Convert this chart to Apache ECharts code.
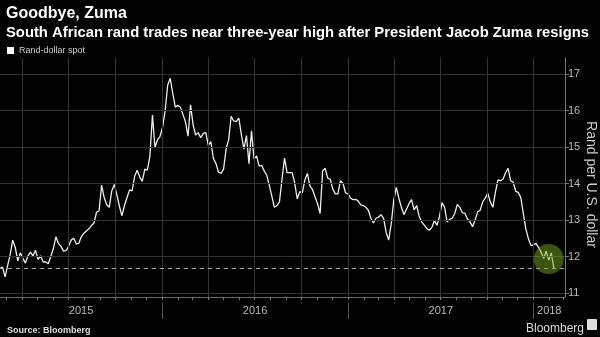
<!DOCTYPE html>
<html><head><meta charset="utf-8">
<script src="https://cdn.jsdelivr.net/npm/echarts@6/dist/echarts.min.js"></script>
<style>html,body{margin:0;padding:0;background:#000}#c{width:600px;height:337px}</style>
</head><body><div id="c"></div>
<script>
// ---- data ----
const startDate = [2015, 1, 16];   // first observation (UTC y, m0, d)
const stepDays = 5;                 // sampling step of the series
const rand = [
11.67,11.71,11.44,11.75,12.05,12.45,12.25,11.88,12.10,11.95,
11.82,12.02,12.12,12.02,12.17,11.92,12.02,11.85,11.85,11.80,
12.00,12.22,12.54,12.36,12.28,12.15,12.16,12.28,12.45,12.50,
12.35,12.36,12.54,12.64,12.70,12.76,12.85,12.92,13.22,13.25,
13.96,13.62,13.42,13.35,13.80,13.98,13.70,13.38,13.12,13.40,
13.62,13.83,13.80,14.20,14.37,14.18,14.06,14.40,14.37,14.75,
15.88,15.00,15.20,15.30,15.55,16.00,16.70,16.89,16.48,16.10,
16.15,16.10,15.90,15.70,15.30,16.16,15.62,15.33,15.40,15.26,
15.38,15.40,15.05,15.15,14.69,14.55,14.32,14.28,14.40,14.95,
15.20,15.85,15.72,15.70,15.80,15.35,14.95,15.32,14.55,15.45,
14.68,14.76,14.48,14.50,14.35,14.23,13.95,13.66,13.35,13.40,
13.50,14.12,14.70,14.30,14.30,14.30,14.02,13.58,13.78,13.75,
14.10,14.28,13.93,13.84,13.64,13.45,13.18,14.35,14.42,14.15,
14.12,13.85,13.72,13.72,14.08,14.01,13.75,13.72,13.60,13.56,
13.57,13.52,13.42,13.40,13.35,13.27,13.05,12.92,13.05,13.08,
13.15,13.05,12.66,12.45,12.90,13.55,13.90,13.60,13.35,13.15,
13.30,13.45,13.56,13.28,13.40,13.10,12.95,12.86,12.77,12.72,
12.80,12.98,12.86,13.10,13.48,13.35,12.95,13.02,13.05,13.18,
13.43,13.35,13.20,13.19,13.03,12.95,12.82,13.00,13.22,13.27,
13.50,13.60,13.74,13.50,13.35,13.76,14.10,14.08,14.12,14.30,
14.42,14.08,14.04,13.79,13.76,13.62,13.18,12.75,12.49,12.30,
12.32,12.36,12.25,12.12,11.95,12.15,11.90,12.10,11.68
];
const yTicks = [11, 12, 13, 14, 15, 16, 17];
const years = [2015, 2016, 2017, 2018];
const highlight = { date: [2018, 0, 31], value: 11.93 };
const axisStart = [2015, 1, 16];
const axisEnd = [2018, 2, 4];

// ---- derived ----
const DAY = 86400000;
const t0 = Date.UTC(...startDate);
const series = rand.map((v, i) => [t0 + i * stepDays * DAY, v]);
const xMin = Date.UTC(...axisStart), xMax = Date.UTC(...axisEnd);
const monthTicks = [], quarterTicks = [], yearStarts = [], yearCenters = [];
years.forEach(y => {
  for (let m = 0; m < 12; m++) {
    const t = Date.UTC(y, m, 1);
    if (t >= xMin && t <= xMax) { monthTicks.push(t); if (m % 3 === 0) quarterTicks.push(t); }
  }
  const ys = Date.UTC(y, 0, 1);
  if (ys > xMin && ys < xMax) yearStarts.push(ys);
  const s = Math.max(ys, xMin), e = Math.min(Date.UTC(y + 1, 0, 1), xMax);
  yearCenters.push((s + e) / 2);
});
const lastVal = rand[rand.length - 1];

const chart = echarts.init(document.getElementById('c'), null, { renderer: 'canvas' });
const FONT = 'Liberation Sans';
chart.setOption({
  backgroundColor: '#000',
  animation: false,
  textStyle: { fontFamily: FONT },
  title: [
    { text: 'Goodbye, Zuma', left: 1, top: 1,
      textStyle: { color: '#fff', fontSize: 16, fontWeight: 'bold', fontFamily: FONT } },
    { text: 'South African rand trades near three-year high after President Jacob Zuma resigns', left: 1, top: 20,
      textStyle: { color: '#fff', fontSize: 14.8, fontWeight: 'bold', fontFamily: FONT } },
    { text: 'Source: Bloomberg', left: 2, top: 321,
      textStyle: { color: '#ddd', fontSize: 9, fontWeight: 'bold', fontFamily: FONT } },
    { text: 'Bloomberg', left: 521, top: 318,
      textStyle: { color: '#ddd', fontSize: 12, fontWeight: 'normal', fontFamily: FONT } }
  ],
  graphic: [
    { type: 'rect', left: 587, top: 319, shape: { width: 10, height: 11, r: 1 }, style: { fill: '#ddd' } }
  ],
  legend: {
    data: ['Rand-dollar spot'], left: 2, top: 41, icon: 'rect', itemWidth: 7, itemHeight: 7, itemGap: 4,
    textStyle: { color: '#ccc', fontSize: 9, fontFamily: FONT }
  },
  grid: { left: 0, right: 35, top: 58, bottom: 40, containLabel: false, outerBoundsMode: 'none' },
  xAxis: [
    { type: 'value', min: xMin, max: xMax, position: 'bottom',
      axisLine: { show: true, lineStyle: { color: '#666', width: 1 } },
      axisTick: { show: true, customValues: monthTicks, length: 3, lineStyle: { color: '#777' } },
      axisLabel: { show: true, customValues: yearCenters, color: '#bbb', fontSize: 11, margin: 8,
        formatter: v => String(new Date(v).getUTCFullYear()) },
      splitLine: { show: false } },
    { type: 'value', min: xMin, max: xMax, position: 'bottom', offset: 6,
      axisLine: { show: false },
      axisTick: { show: true, customValues: yearStarts, length: 16, lineStyle: { color: '#555' } },
      axisLabel: { show: false },
      splitLine: { show: false } }
  ],
  yAxis: {
    type: 'value', position: 'right', min: 10.89, max: 17.447,
    axisLine: { show: true, lineStyle: { color: '#777' } },
    axisTick: { show: true, customValues: yTicks, length: 4, lineStyle: { color: '#777' } },
    axisLabel: { show: true, customValues: yTicks, color: '#bbb', fontSize: 11, margin: 3 },
    splitLine: { show: false },
    name: 'Rand per U.S. dollar', nameLocation: 'middle', nameRotate: -90, nameGap: 19,
    nameMoveOverlap: false,
    nameTextStyle: { color: '#ccc', fontSize: 14, fontFamily: FONT, padding: [0, 0, 0, 14] }
  },
  series: [
    { name: 'grid', type: 'line', data: [], z: 1, silent: true,
      markLine: { silent: true, symbol: ['none', 'none'], label: { show: false },
        lineStyle: { color: '#333', width: 1, type: 'solid' },
        data: yTicks.map(v => ({ yAxis: v })).concat(quarterTicks.map(t => ({ xAxis: t }))) } },
    { name: 'Rand-dollar spot', type: 'line', data: series, z: 3, showSymbol: false,
      itemStyle: { color: '#fff' },
      lineStyle: { color: '#eee', width: 1.3 },
      markLine: { silent: true, symbol: ['none', 'none'], label: { show: false },
        lineStyle: { color: '#aaa', width: 1, type: [4, 4] },
        data: [{ yAxis: lastVal }] } },
    { name: 'highlight', type: 'scatter', z: 5, silent: true,
      data: [[Date.UTC(...highlight.date), highlight.value]],
      symbol: 'circle', symbolSize: 30,
      itemStyle: { color: 'rgba(120,170,30,0.62)' } }
  ]
});
</script></body></html>
